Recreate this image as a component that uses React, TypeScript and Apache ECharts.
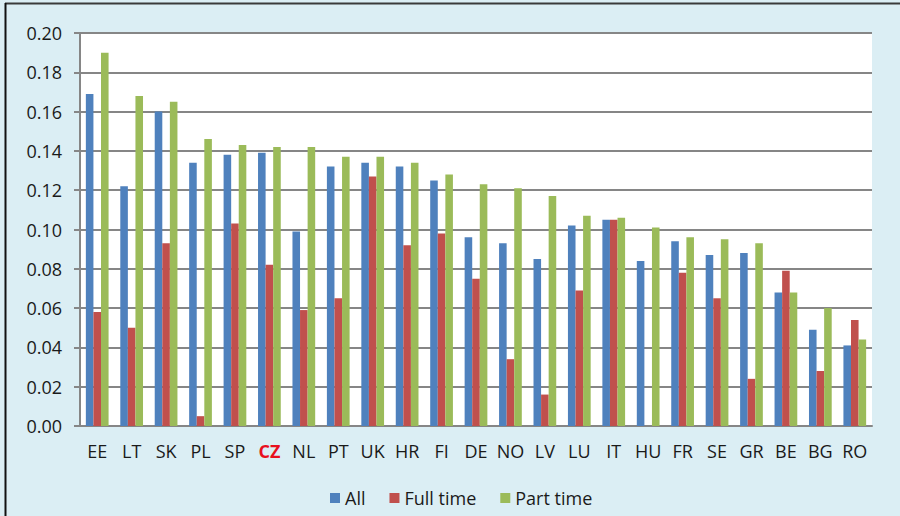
import React, { useEffect, useRef } from "react";
import * as echarts from "echarts";

const categories = ["EE", "LT", "SK", "PL", "SP", "CZ", "NL", "PT", "UK", "HR", "FI", "DE", "NO", "LV", "LU", "IT", "HU", "FR", "SE", "GR", "BE", "BG", "RO"];
const allValues = [0.169, 0.122, 0.160, 0.134, 0.138, 0.139, 0.099, 0.132, 0.134, 0.132, 0.125, 0.096, 0.093, 0.085, 0.102, 0.105, 0.084, 0.094, 0.087, 0.088, 0.068, 0.049, 0.041];
const fullTime: (number | null)[] = [0.058, 0.050, 0.093, 0.005, 0.103, 0.082, 0.059, 0.065, 0.127, 0.092, 0.098, 0.075, 0.034, 0.016, 0.069, 0.105, null, 0.078, 0.065, 0.024, 0.079, 0.028, 0.054];
const partTime = [0.190, 0.168, 0.165, 0.146, 0.143, 0.142, 0.142, 0.137, 0.137, 0.134, 0.128, 0.123, 0.121, 0.117, 0.107, 0.106, 0.101, 0.096, 0.095, 0.093, 0.068, 0.060, 0.044];
const seriesNames = ["All", "Full time", "Part time"];
const colors = ["#4F81BD", "#C0504D", "#9BBB59"];
const highlight = "CZ";

const FONT = "Open Sans";

export default function App() {
  const ref = useRef<HTMLDivElement>(null);
  useEffect(() => {
    if (!ref.current) return;
    const chart = echarts.init(ref.current, undefined, { renderer: "svg" });
    const datas = [allValues, fullTime, partTime];
    chart.setOption({
      animation: false,
      backgroundColor: "#DBEEF4",
      textStyle: { fontFamily: FONT },
      graphic: [
        { type: "line", shape: { x1: 5, y1: 3.5, x2: 900, y2: 3.5 }, style: { stroke: "#3a3a3a", lineWidth: 2 }, z: 100 },
        { type: "line", shape: { x1: 5.5, y1: 3, x2: 5.5, y2: 516 }, style: { stroke: "#111", lineWidth: 2 }, z: 100 },
      ],
      grid: { left: 80, right: 28, top: 33, bottom: 90, backgroundColor: "#ffffff", show: true, borderWidth: 0 },
      legend: {
        left: 325,
        top: 484,
        itemWidth: 10,
        itemHeight: 10,
        itemGap: 24,
        icon: "rect",
        textStyle: { fontFamily: FONT, fontSize: 18, color: "#1a1a1a" },
        data: seriesNames,
      },
      xAxis: {
        type: "category",
        data: categories,
        axisLine: { lineStyle: { color: "#868686", width: 2 } },
        axisTick: { length: 5, interval: 0, lineStyle: { color: "#868686", width: 2 } },
        axisLabel: {
          interval: 0,
          margin: 16,
          fontSize: 18,
          fontFamily: FONT,
          color: "#1a1a1a",
          formatter: (v: string) => (v === highlight ? `{hl|${v}}` : v),
          rich: { hl: { color: "#E8101E", fontWeight: "bold", fontSize: 18, fontFamily: FONT } },
        },
      },
      yAxis: {
        type: "value",
        min: 0,
        max: 0.2,
        interval: 0.02,
        axisLine: { show: true, lineStyle: { color: "#868686", width: 2 } },
        axisTick: { show: true, length: 6, lineStyle: { color: "#868686", width: 2 } },
        splitLine: { lineStyle: { color: "#868686", width: 2 } },
        axisLabel: {
          margin: 18,
          fontSize: 18,
          fontFamily: FONT,
          color: "#1a1a1a",
          formatter: (v: number) => v.toFixed(2),
        },
      },
      series: seriesNames.map((name, i) => ({
        name,
        type: "bar",
        data: datas[i],
        barGap: "0%",
        barCategoryGap: "34%",
        itemStyle: { color: colors[i] },
      })),
    });
    return () => chart.dispose();
  }, []);
  return <div ref={ref} style={{ position: "fixed", left: 0, top: 0, width: 900, height: 516 }} />;
}
